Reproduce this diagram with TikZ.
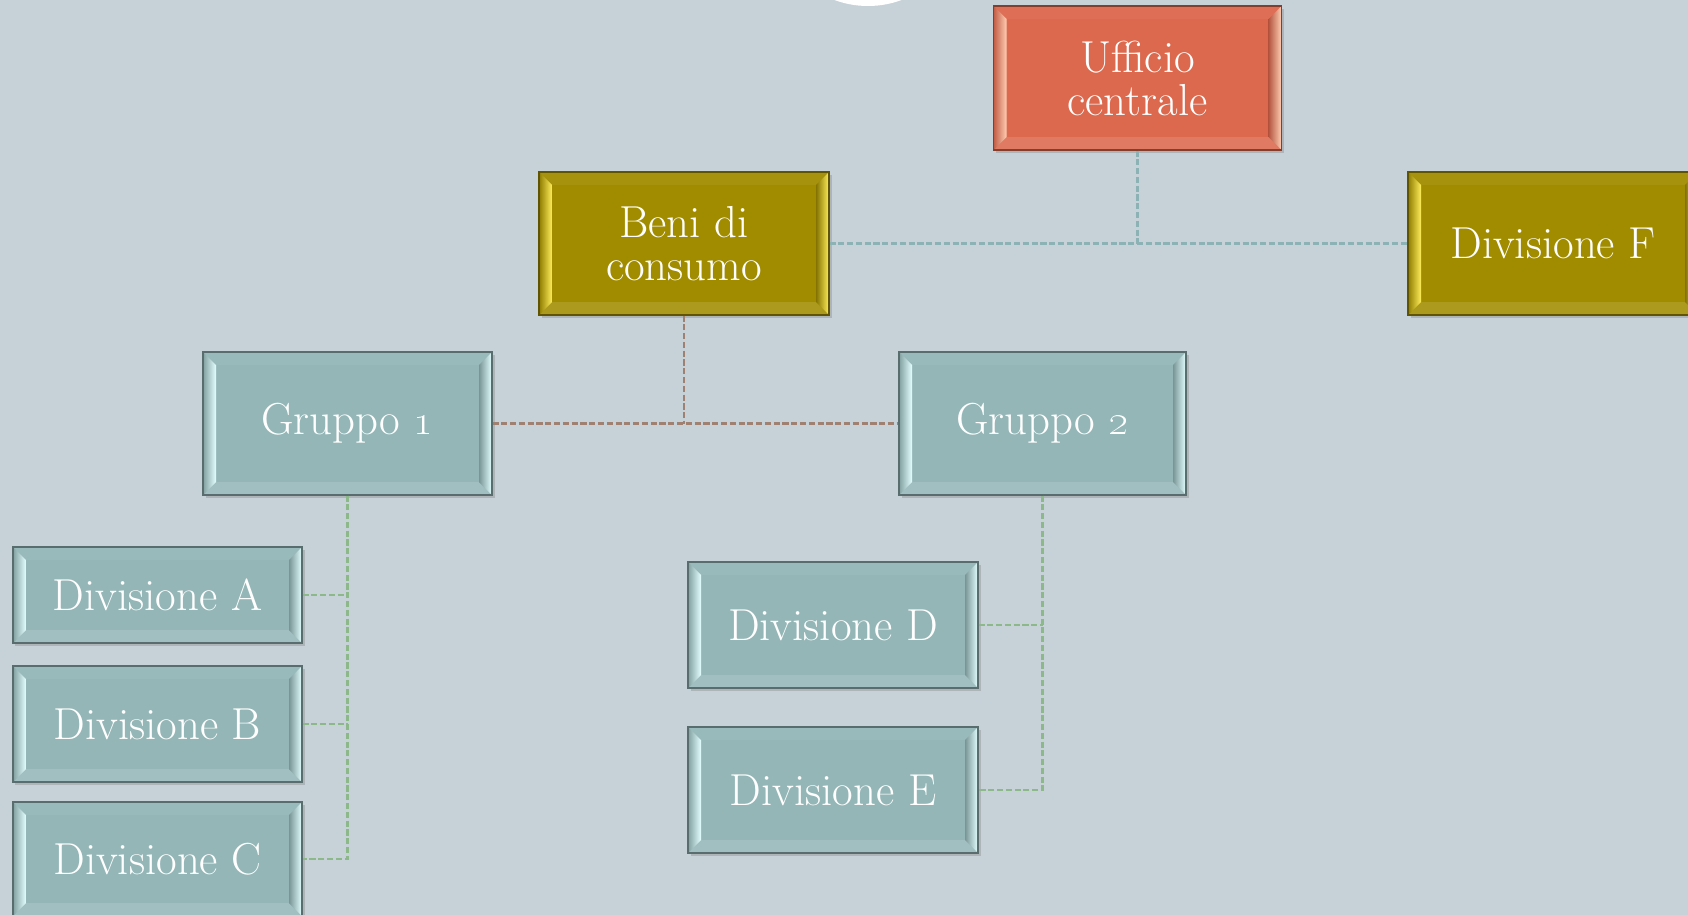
\documentclass[tikz,border=0pt]{standalone}
\usepackage{tikz}
\usetikzlibrary{calc,shadows,positioning}

\definecolor{bgcol}{RGB}{198,210,216}
\definecolor{redface}{RGB}{220,104,77}
\definecolor{redhi}{RGB}{255,205,180}
\definecolor{goldface}{RGB}{161,140,0}
\definecolor{goldhi}{RGB}{255,238,90}
\definecolor{tealface}{RGB}{148,182,183}
\definecolor{tealhi}{RGB}{228,255,255}
\definecolor{linkteal}{RGB}{140,178,181}
\definecolor{linkbrown}{RGB}{160,128,112}
\definecolor{linkgreen}{RGB}{140,184,138}

\begin{document}
\begin{tikzpicture}
\tikzset{bevelbox/.style 2 args={rectangle, fill=#1, draw=#1!60!black, line width=0.6pt,
    inner sep=0pt, text=white, align=center, font=\fontsize{25.5}{24.5}\selectfont,
    drop shadow={opacity=0.35, shadow xshift=0.05cm, shadow yshift=-0.06cm},
    path picture={
      \path (path picture bounding box.south west) coordinate (sw)
            (path picture bounding box.north east) coordinate (ne);
      \fill[#1!95!white] (sw|-ne) -- (ne) -- ($(ne)+(-0.26,-0.26)$) -- ($(sw|-ne)+(0.26,-0.26)$) -- cycle;
      \fill[#1!88!white] (sw) -- (sw-|ne) -- ($(sw-|ne)+(-0.26,0.26)$) -- ($(sw)+(0.26,0.26)$) -- cycle;
      \shade[left color=#1!88!black, right color=#2] (sw) -- (sw|-ne) -- ($(sw|-ne)+(0.26,-0.26)$) -- ($(sw)+(0.26,0.26)$) -- cycle;
      \shade[left color=#1!82!black, right color=#2] (ne) -- (sw-|ne) -- ($(sw-|ne)+(-0.26,0.26)$) -- ($(ne)+(-0.26,-0.26)$) -- cycle;
    }}}
\tikzstyle{redbox} = [bevelbox={redface}{redhi}]
\tikzstyle{goldbox} = [bevelbox={goldface}{goldhi}]
\tikzstyle{tealbox} = [bevelbox={tealface}{tealhi}]
\tikzstyle{link} = [line width=1.4pt, dash pattern=on 3.5pt off 1.5pt]

\useasboundingbox (0,0) rectangle (33.76,-18.30);
\fill[bgcol] (0,0) rectangle (33.76,-18.30);
\fill[white] (17.36,1.81) circle (1.93);

\node (uff) [redbox, minimum width=5.76cm, minimum height=2.88cm] at (22.75,-1.56) {Ufficio\\centrale};
\node (beni) [goldbox, minimum width=5.80cm, minimum height=2.86cm] at (13.68,-4.87) {Beni di\\consumo};
\node (divF) [goldbox, minimum width=5.80cm, minimum height=2.86cm] at (31.06,-4.87) {Divisione F};
\node (gr1) [tealbox, minimum width=5.78cm, minimum height=2.86cm] at (6.95,-8.47) {Gruppo \oldstylenums{1}};
\node (gr2) [tealbox, minimum width=5.74cm, minimum height=2.86cm] at (20.85,-8.47) {Gruppo \oldstylenums{2}};
\node (divA) [tealbox, minimum width=5.78cm, minimum height=1.92cm] at (3.15,-11.90) {Divisione A};
\node (divB) [tealbox, minimum width=5.78cm, minimum height=2.32cm] at (3.15,-14.48) {Divisione B};
\node (divC) [tealbox, minimum width=5.78cm, minimum height=2.28cm] at (3.15,-17.18) {Divisione C};
\node (divD) [tealbox, minimum width=5.80cm, minimum height=2.52cm] at (16.66,-12.50) {Divisione D};
\node (divE) [tealbox, minimum width=5.80cm, minimum height=2.52cm] at (16.66,-15.80) {Divisione E};

% top level
\draw [link, linkteal] (uff.south) -- (uff.south |- beni.east);
\draw [link, linkteal] (beni.east) -- (divF.west);
% groups
\draw [link, linkbrown] (beni.south) -- (beni.south |- gr1.east);
\draw [link, linkbrown] (gr1.east) -- (gr2.west);
% divisions
\draw [link, linkgreen] (gr1.south) |- (divC.east);
\draw [link, linkgreen] (divA.east) -- (divA.east -| gr1.south);
\draw [link, linkgreen] (divB.east) -- (divB.east -| gr1.south);
\draw [link, linkgreen] (gr2.south) |- (divE.east);
\draw [link, linkgreen] (divD.east) -- (divD.east -| gr2.south);
\end{tikzpicture}
\end{document}
